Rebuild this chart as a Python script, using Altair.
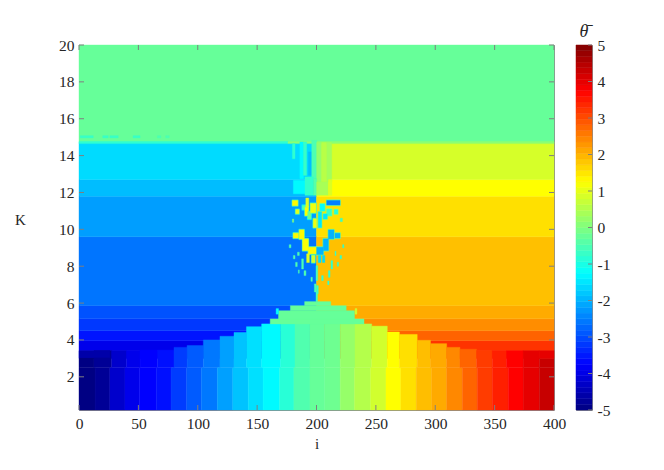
import altair as alt
import pandas as pd
import numpy as np

SERIF = "Liberation Serif"
K_MIN, K_MAX = 0.2, 20
x_ticks = [0, 50, 100, 150, 200, 250, 300, 350, 400]
y_ticks = [2, 4, 6, 8, 10, 12, 14, 16, 18, 20]
cbar_ticks = [-5, -4, -3, -2, -1, 0, 1, 2, 3, 4, 5]

# horizontal layers: K edges and mean theta left / right of the centre line
band_edges = [3.0, 3.42, 3.96, 4.5, 5.15, 5.86, 9.6, 11.8, 12.7, 14.72]
band_left = [-3.95, -3.95, -3.55, -3.2, -2.95, -2.6, -2.2, -1.9, -1.6]
band_right = [3.25, 3.25, 2.78, 2.37, 2.07, 1.87, 1.55, 1.25, 0.85]
top_value = -0.25

# vertical columns at low K
col_edges_low = [0, 13.5, 26, 38.7, 51, 65, 77.5, 90.6, 103, 116.5, 129.5, 142.6, 155, 169, 181, 194.5,
                 207, 220, 232, 245.6, 258.5, 271, 284, 297, 309.6, 322.8, 335.4, 348, 361.5, 374, 387.6, 400]
col_edges_high = [0, 12.6, 27.5, 40, 51.4, 66, 80, 91, 104.7, 118.7, 130.5, 141, 153.8, 169.8, 181.9, 194.5,
                  207, 220, 232.4, 246.5, 259.6, 269.8, 284.8, 296, 309.6, 320.8, 334.8, 348, 360, 374, 387.6, 400]
col_tops = [3.05, 3.42, 3.42, 3.42, 3.45, 3.45, 3.6, 3.7, 4.0, 4.2, 4.41, 4.72, 4.87, 4.87, 4.87, 4.87,
            4.87, 4.87, 4.87, 4.75, 4.43, 4.3, 3.98, 3.8, 3.6, 3.5, 3.44, 3.42, 3.42, 3.42, 3.0]
col_values = [-4.97, -4.78, -4.25, -3.95, -3.75, -3.6, -3.16, -2.86, -2.57, -2.18, -1.84, -1.55, -1.3, -0.86, -0.47, -0.25,
              -0.17, 0.22, 0.51, 0.8, 1.25, 1.55, 1.89, 2.08, 2.42, 2.77, 3.16, 3.45, 3.75, 4.0, 4.3]

# patches: i0, i1, K0, K1, theta
dome_patches = [
    (0, 26, 3.05, 3.42, -4.6), (387.6, 400, 3.0, 3.42, 4.0),
    (161, 240, 4.87, 5.14, -0.25), (168, 232, 5.14, 5.59, -0.25),
    (178, 225, 5.59, 5.86, -0.25), (190, 212, 5.86, 6.08, -0.25),
    (166, 168, 5.4, 5.7, -1.2), (232.5, 234, 5.4, 5.7, 0.8),
]
edge_patches = [
    (0, 176, 14.65, 14.76, -0.8), (176, 400, 14.65, 14.76, 0.1),
    (1, 12, 14.96, 15.08, -0.7), (20, 24.6, 14.96, 15.08, -0.7), (26, 33, 14.96, 15.08, -0.7),
    (45.5, 51.4, 14.96, 15.08, -0.7), (66, 69, 14.96, 15.08, -0.5), (73, 76, 14.96, 15.08, -0.5),
]
stripe_patches = [
    (179.7, 181.9, 13.83, 14.65, -0.8), (186, 189, 12.75, 14.74, -1.3), (189, 191.7, 12.93, 14.74, -0.7),
    (193.1, 196, 12.93, 14.2, -1.9), (196, 200.2, 12.75, 14.83, -0.5), (200.2, 204.4, 12.57, 14.72, 0.2),
    (204.4, 208.6, 12.57, 14.72, 0.55), (208.6, 212.8, 12.57, 14.72, 0.35),
    (180.5, 190.3, 11.93, 12.66, -1.3), (190.3, 197.4, 11.85, 12.84, -0.75), (197.4, 200.2, 11.85, 12.75, -0.4),
    (200.2, 210, 11.85, 12.57, 0.4), (210, 213, 11.85, 12.7, 0.9),
]
blob_patches = [
    (179.7, 184.2, 11.29, 11.56, 1.3), (182.5, 185.3, 10.85, 11.07, 1.0),
    (179.7, 180.8, 10.38, 10.56, 0.0), (188, 191, 11.07, 11.3, -0.5), (190.3, 193.1, 10.75, 11.2, 1.2),
    (192.6, 195.4, 10.56, 10.96, -0.2), (195, 199.5, 10.9, 11.4, 1.1), (191, 193.5, 11.2, 11.7, 0.9),
    (197.3, 200, 10.1, 10.57, 1.1), (201.5, 204.3, 10.1, 10.95, -1.5),
    (208.6, 219.8, 11.32, 11.56, -2.5), (208.6, 212.8, 10.74, 11.1, -0.7),
    (215, 218, 10.83, 11.07, -0.9), (220, 221.8, 10.42, 10.6, -0.7), (203, 207, 11.0, 11.38, -1.2),
    (205.7, 209, 10.56, 10.83, -1.5),
    (180.5, 184.7, 9.53, 9.79, 1.3), (185.5, 189.5, 9.48, 9.97, 1.3), (188.3, 193.1, 8.85, 9.48, 1.2),
    (193.1, 200.1, 8.67, 9.03, 1.3), (200.1, 205.7, 8.63, 9.03, -2.0), (205.7, 210, 8.85, 9.48, -2.0),
    (210, 214.7, 9.48, 9.97, -2.0), (215.6, 219.8, 9.53, 9.79, -2.0),
    (191.7, 194, 8.2, 8.67, 1.0), (196, 198.7, 8.2, 8.58, 0.8), (201.5, 203.8, 8.2, 8.58, -1.6), (205, 207, 8.2, 8.58, -1.6),
    (177, 178.5, 9.0, 9.17, -0.5), (180.5, 181.9, 8.4, 8.58, -0.5), (184, 185.5, 8.58, 8.76, -0.5),
    (187.5, 189, 7.85, 8.4, -0.5), (182.4, 183.8, 7.98, 8.21, -0.5), (184.7, 185.5, 7.62, 7.8, -0.5),
    (189.5, 191.1, 7.49, 7.76, -0.5), (195.3, 196.5, 7.18, 7.4, -0.5), (198.2, 199.6, 6.6, 7.04, -0.5),
    (199.6, 201, 7.22, 8.03, -0.6), (204.3, 205.7, 7.22, 7.49, -0.8), (200, 201.5, 6.5, 6.95, -0.7),
    (210, 211.4, 7.4, 7.76, -0.8), (212.2, 213.6, 7.85, 8.3, -0.8), (209.4, 210.5, 7.0, 7.2, -0.8),
    (215.6, 216.4, 8.58, 8.81, -0.8), (217.5, 218.6, 8.0, 8.21, -0.8), (219.8, 221.2, 8.4, 8.58, -0.8),
    (222, 223.1, 9.0, 9.17, -0.8), (199.6, 200.8, 6.08, 6.6, -0.6),
]

rows = []
rows.append((0, 400, 14.72, K_MAX, top_value))
for lo, hi, l, r in zip(band_edges[:-1], band_edges[1:], band_left, band_right):
    rows.append((0, 200, lo, hi, l))
    rows.append((200, 400, lo, hi, r))
for n, (top, v) in enumerate(zip(col_tops, col_values)):
    rows.append((col_edges_low[n], col_edges_low[n + 1], K_MIN, 2.5, v))
    rows.append((col_edges_high[n], col_edges_high[n + 1], 2.5, top, v))
rows += dome_patches + edge_patches + stripe_patches
# soft rims around the larger blobs, then the blobs
for a, b, c, d, v in blob_patches:
    if b - a > 2.5:
        base = -2.3 if a < 200 else 1.7
        rows.append((a - 0.4, b + 0.4, c - 0.04, d + 0.04, (v + base) / 2))
rows += blob_patches
cells = pd.DataFrame(rows, columns=["i0", "i1", "k0", "k1", "v"])

jet = alt.Scale(domain=[-5, -3.75, -1.25, 1.25, 3.75, 5],
                range=["#000080", "#0000ff", "#00ffff", "#ffff00", "#ff0000", "#800000"],
                interpolate="rgb", clamp=True)

W, H = 475, 365
TXT = "#262626"
GRID = "#7f7f7f"
FS = 15.5

xs = alt.Scale(domain=[0, 400], nice=False, zero=False)
ys = alt.Scale(domain=[K_MIN, K_MAX], nice=False, zero=False)
x_axis = alt.Axis(values=x_ticks, tickSize=0, domain=False, grid=False, labelFont=SERIF, labelFontSize=FS,
                  labelColor=TXT, labelPadding=6, titleFont=SERIF, titleFontSize=15, titleFontWeight="normal",
                  titleColor=TXT, titlePadding=5, labelFlush=False, title="i")
y_axis = alt.Axis(values=y_ticks, tickSize=0, domain=False, grid=False, labelFont=SERIF, labelFontSize=FS,
                  labelColor=TXT, labelPadding=5, titleFont=SERIF, titleFontSize=15, titleFontWeight="normal",
                  titleColor=TXT, titleAngle=0, titleX=-59, titleY=182, labelFlush=False, title="K")

field = alt.Chart(cells).mark_rect(strokeWidth=0.4).encode(
    x=alt.X("i0:Q", scale=xs, axis=x_axis),
    x2="i1:Q",
    y=alt.Y("k0:Q", scale=ys, axis=y_axis),
    y2="k1:Q",
    color=alt.Color("v:Q", scale=jet, legend=None),
    stroke=alt.Stroke("v:Q", scale=jet, legend=None),
)

xdf = pd.DataFrame({"i": x_ticks})
ydf = pd.DataFrame({"k": y_ticks})
rule = dict(color=GRID, strokeWidth=1)
ticks = [
    alt.Chart(xdf).mark_rule(**rule).encode(x=alt.X("i:Q", scale=xs, axis=x_axis), y=alt.value(H), y2=alt.value(H - 5)),
    alt.Chart(xdf).mark_rule(**rule).encode(x=alt.X("i:Q", scale=xs, axis=x_axis), y=alt.value(0), y2=alt.value(5)),
    alt.Chart(ydf).mark_rule(**rule).encode(y=alt.Y("k:Q", scale=ys, axis=y_axis), x=alt.value(0), x2=alt.value(5)),
    alt.Chart(ydf).mark_rule(**rule).encode(y=alt.Y("k:Q", scale=ys, axis=y_axis), x=alt.value(W), x2=alt.value(W - 5)),
]
main = alt.layer(field, *ticks).properties(width=W, height=H)

# colour bar
levels = np.linspace(-5, 5, 65)
bar = pd.DataFrame({"lo": levels[:-1], "hi": levels[1:], "v": (levels[:-1] + levels[1:]) / 2})
cs = alt.Scale(domain=[-5, 5], nice=False, zero=False)
c_axis = alt.Axis(orient="right", values=cbar_ticks, tickSize=0, domain=False, grid=False, labelFont=SERIF,
                  labelFontSize=FS, labelColor=TXT, labelPadding=5, labelFlush=False,
                  labelExpr="toString(datum.value)", title=None)
bar_rects = alt.Chart(bar).mark_rect(strokeWidth=0.5).encode(
    x=alt.value(0), x2=alt.value(16),
    y=alt.Y("lo:Q", scale=cs, axis=c_axis),
    y2="hi:Q",
    color=alt.Color("v:Q", scale=jet, legend=None),
    stroke=alt.Stroke("v:Q", scale=jet, legend=None),
)
cdf = pd.DataFrame({"c": cbar_ticks})
bar_ticks = alt.Chart(cdf).mark_rule(color=GRID, strokeWidth=1).encode(
    y=alt.Y("c:Q", scale=cs, axis=c_axis), x=alt.value(16), x2=alt.value(12))
colorbar = alt.layer(bar_rects, bar_ticks).properties(
    width=16, height=H,
    title=alt.TitleParams("θ̄", font=SERIF, fontSize=18, fontStyle="italic", fontWeight="normal", color=TXT,
                          anchor="middle", offset=-3),
)

chart = alt.hconcat(main, colorbar, spacing=8).resolve_scale(color="independent", stroke="independent").configure_view(
    stroke="#8c8c8c", strokeWidth=1
).properties(padding={"left": 6, "top": 14, "right": 5, "bottom": 5}, background="white")

chart.save("out.html", embed_options={"renderer": "svg", "actions": False})
